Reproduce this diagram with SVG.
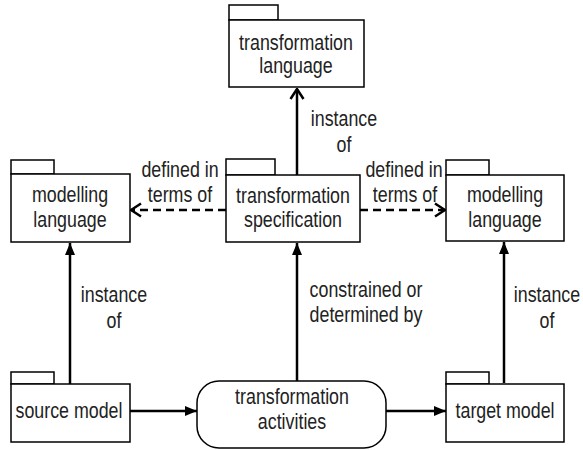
<svg xmlns="http://www.w3.org/2000/svg" width="583" height="450" viewBox="0 0 583 450">
  <style>
    .box { fill: #fff; stroke: #000; stroke-width: 1.5; }
    .lbl { font-family: "Liberation Sans", Arial, sans-serif; font-size: 22px; fill: #222; text-anchor: middle; }
    .con { fill: none; stroke: #000; stroke-width: 2.5; }
    .dash { stroke-dasharray: 8 5; }
  </style>
  <defs>
    <marker id="filled" viewBox="0 0 12 12" refX="12" refY="6" markerWidth="12" markerHeight="12" orient="auto" markerUnits="userSpaceOnUse">
      <path d="M0,1 L12,6 L0,11 Z" fill="#000"/>
    </marker>
    <marker id="open" viewBox="0 0 12 16" refX="11" refY="8" markerWidth="12" markerHeight="16" orient="auto" markerUnits="userSpaceOnUse">
      <path d="M1,1.5 L11,8 L1,14.5" fill="none" stroke="#000" stroke-width="2.5"/>
    </marker>
  </defs>

  <!-- labels are narrowed horizontally to a condensed look: translate(x,y) scale(0.81,1) -->
  <g id="connectors">
    <line class="con" x1="297" y1="175" x2="297" y2="89" marker-end="url(#open)"/>
    <line class="con dash" x1="226" y1="210" x2="131" y2="210" marker-end="url(#open)"/>
    <line class="con dash" x1="360" y1="210" x2="445" y2="210" marker-end="url(#open)"/>
    <line class="con" x1="70" y1="384" x2="70" y2="243" marker-end="url(#filled)"/>
    <line class="con" x1="297" y1="381" x2="297" y2="243" marker-end="url(#filled)"/>
    <line class="con" x1="504" y1="383" x2="504" y2="242" marker-end="url(#filled)"/>
    <line class="con" x1="128" y1="411" x2="197" y2="411" marker-end="url(#filled)"/>
    <line class="con" x1="386" y1="411" x2="446" y2="411" marker-end="url(#filled)"/>
    <text class="lbl" transform="translate(344,126) scale(0.81,1)">instance</text>
    <text class="lbl" transform="translate(344,152) scale(0.81,1)">of</text>
    <text class="lbl" transform="translate(180,177) scale(0.81,1)">defined in</text>
    <text class="lbl" transform="translate(180,202) scale(0.81,1)">terms of</text>
    <text class="lbl" transform="translate(404,177) scale(0.81,1)">defined in</text>
    <text class="lbl" transform="translate(405,202) scale(0.81,1)">terms of</text>
    <text class="lbl" transform="translate(114,302) scale(0.81,1)">instance</text>
    <text class="lbl" transform="translate(114,328) scale(0.81,1)">of</text>
    <text class="lbl" transform="translate(366,297) scale(0.81,1)">constrained or</text>
    <text class="lbl" transform="translate(366,322) scale(0.81,1)">determined by</text>
    <text class="lbl" transform="translate(547,302) scale(0.81,1)">instance</text>
    <text class="lbl" transform="translate(547,328) scale(0.81,1)">of</text>
  </g>

  <g id="transformation-language">
    <rect class="box" x="229" y="5" width="49" height="15"/>
    <rect class="box" x="229" y="20" width="135" height="67"/>
    <text class="lbl" transform="translate(296,50) scale(0.81,1)">transformation</text>
    <text class="lbl" transform="translate(296,73) scale(0.81,1)">language</text>
  </g>

  <g id="source-modelling-language">
    <rect class="box" x="11" y="160" width="43" height="14"/>
    <rect class="box" x="11" y="174" width="119" height="68"/>
    <text class="lbl" transform="translate(70,202) scale(0.81,1)">modelling</text>
    <text class="lbl" transform="translate(70,227) scale(0.81,1)">language</text>
  </g>

  <g id="transformation-specification">
    <rect class="box" x="226" y="159" width="49" height="16"/>
    <rect class="box" x="226" y="175" width="134" height="67"/>
    <text class="lbl" transform="translate(293,203) scale(0.81,1)">transformation</text>
    <text class="lbl" transform="translate(293,227) scale(0.81,1)">specification</text>
  </g>

  <g id="target-modelling-language">
    <rect class="box" x="446" y="160" width="43" height="15"/>
    <rect class="box" x="446" y="175" width="118" height="66"/>
    <text class="lbl" transform="translate(505,202) scale(0.81,1)">modelling</text>
    <text class="lbl" transform="translate(505,227) scale(0.81,1)">language</text>
  </g>

  <g id="source-model">
    <rect class="box" x="11" y="372" width="43" height="12"/>
    <rect class="box" x="11" y="384" width="119" height="58"/>
    <text class="lbl" transform="translate(69,418) scale(0.81,1)">source model</text>
  </g>

  <g id="transformation-activities">
    <rect class="box" x="197" y="381" width="189" height="67" rx="22" ry="22"/>
    <text class="lbl" transform="translate(292,404) scale(0.81,1)">transformation</text>
    <text class="lbl" transform="translate(292,429) scale(0.81,1)">activities</text>
  </g>

  <g id="target-model">
    <rect class="box" x="446" y="372" width="43" height="12"/>
    <rect class="box" x="446" y="384" width="118" height="58"/>
    <text class="lbl" transform="translate(505,418) scale(0.81,1)">target model</text>
  </g>
</svg>
